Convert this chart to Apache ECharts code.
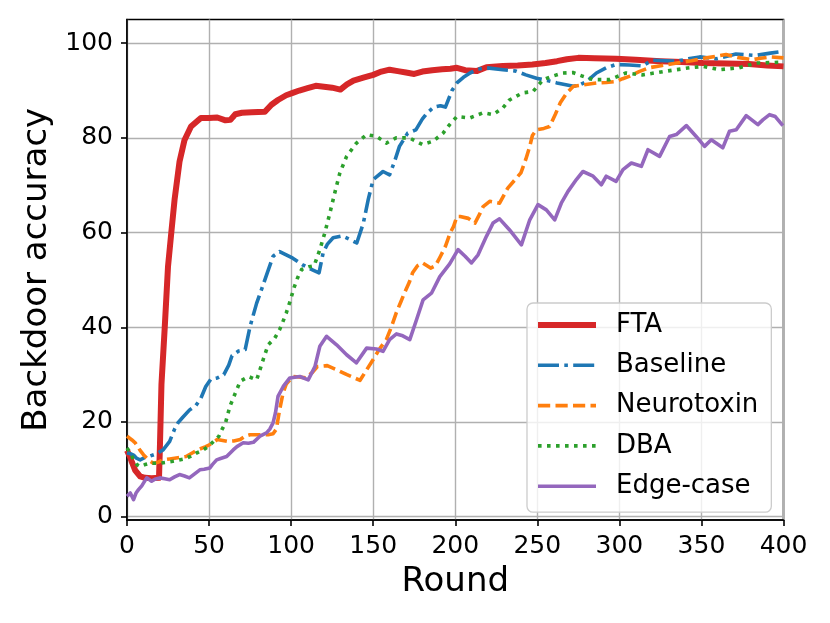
<!DOCTYPE html>
<html>
<head>
<meta charset="utf-8">
<script src="https://cdn.jsdelivr.net/npm/echarts@6/dist/echarts.min.js"></script>
<style>html,body{margin:0;padding:0;background:#fff;}#c{width:830px;height:623px;}</style>
</head>
<body>
<div id="c"></div>
<script>
// [round, backdoor accuracy]
var ftaData = [[0,14],[2,12.5],[3,11.5],[5,9.8],[8,8.5],[11,8.2],[15,8.1],[19.5,8.2],[20,14],[21,28],[23,40],[25,52.9],[27,60],[29,67],[32,75],[35,79.5],[39,82.4],[45,84.2],[50,84.2],[55,84.3],[60,83.7],[63,83.8],[66,85],[70,85.3],[76,85.4],[84,85.5],[88,87],[92,88],[97,89],[101,89.5],[105,90],[110,90.5],[115,91],[120,90.8],[125,90.6],[130,90.2],[134,91.3],[138,92.1],[144,92.7],[150,93.3],[155,94],[160,94.4],[165,94.1],[170,93.8],[175,93.5],[180,94],[186,94.3],[192,94.5],[197,94.6],[201,94.8],[206,94.3],[213,94.1],[219,94.9],[229,95.2],[238,95.3],[247,95.5],[255,95.8],[262,96.2],[268,96.6],[275,96.9],[285,96.8],[298,96.7],[310,96.5],[325,96.2],[338,96],[351,95.8],[365,95.7],[379,95.6],[390,95.3],[400,95.1]];
var baselineData = [[0,13.5],[2,13.3],[4,13],[6,12.3],[8,12],[11,12.5],[14,12.8],[18,13.3],[22,14.1],[26,15.9],[29,18.5],[31,19.8],[34,21],[38,22.5],[42,23.5],[45,25],[48,27.5],[51,29],[55,29.3],[59,30],[62,32],[64,34],[68,35],[72,35.3],[75,40.2],[79,45.1],[83,49],[86,52],[89,55],[93,56],[97,55.3],[101,54.6],[107,53.2],[112,52.3],[117,51.5],[119.5,55.7],[122,57.5],[125.6,58.9],[131,59.3],[136,58.5],[140,57.8],[144,62],[147,67],[150,71.2],[156,72.9],[160,72.2],[163,75],[166,78.2],[171,81],[176,81.7],[180,84],[183,85.3],[187,86.5],[191,86.8],[194,86.5],[198,90],[201,91.6],[205,92.8],[209,93.7],[214,94.5],[219,94.8],[229,94.4],[237,94.1],[243,93.3],[249.5,92.6],[256,92.1],[262,91.6],[272,90.9],[276,91.2],[280,91.9],[286,93.7],[292,94.8],[298,95.5],[306,95.4],[314,95.2],[320,96.4],[328,96.3],[335,96.2],[342,96.7],[349,97.1],[359,96.7],[365,97.2],[371,97.7],[383,97.4],[392,97.9],[400,98.3]];
var neurotoxinData = [[0,17],[3,16.2],[5,15.6],[8,14],[10,13.1],[13,12],[16,11.3],[19,11.5],[22,12],[26,12.2],[30,12.4],[36,12.7],[40,13.5],[43,14.1],[48,14.8],[52,15.5],[55,16.3],[61,15.9],[65,16],[69,16.3],[72,17],[75,17.3],[81,17.3],[86,17.3],[89,17.5],[91,18.5],[93,22.6],[95,26],[97,28],[101,29.6],[105,29.5],[109,29.3],[113,30.5],[116,31.7],[122,31.9],[128,31],[134,30],[142,28.8],[146,31],[150,33.2],[154,35.5],[158,37.4],[161,40],[164,43],[167,45.5],[169,47.2],[172,49.5],[174,51.5],[177,53],[180,53.6],[185,52.5],[188,53],[191,55],[194,57.1],[197,60],[199,61.3],[201,63.4],[203,63.4],[208,63],[212,62],[215,64],[217,65.5],[221,66.6],[227,66.2],[232,69.4],[236,71],[240,72.6],[243,75.5],[245.4,78.2],[247,80.5],[249.5,81.7],[254,82],[257.5,82.4],[261,85],[264,87.4],[268,89.5],[272,90.9],[278,91.2],[286,91.6],[292,91.7],[298,91.9],[302,92.5],[306,93],[312,94],[318,94.8],[326,95.3],[335,95.8],[344,96.3],[353,96.9],[360,97.3],[365,97.6],[372,97],[381,96.5],[386,96.8],[392,97.1],[400,96.9]];
var dbaData = [[0,14.5],[2,13.5],[4,12],[6,11],[8,10.6],[11,11],[14,11.3],[17,11.3],[20,11.3],[24,11.5],[28,11.7],[35,12.2],[39,12.8],[42,13.4],[46,14],[49.5,14.8],[53,16],[56,17],[58,18.5],[60,19.8],[62.7,23.3],[66,26.1],[69,28.6],[74,29.6],[79,28.9],[81,31],[83,33.2],[86,36.3],[90,37.7],[93,39.5],[95,41.2],[97,43],[99,45.1],[102,48.6],[104,50.5],[106.4,52.2],[111,52.8],[114,53],[117.5,56.4],[120.5,59.9],[123.6,64.1],[126.6,68.4],[129.7,72.6],[133.8,76.1],[139.8,78.9],[146,80.7],[152,80.3],[158,78.9],[164,80],[172,80],[180,78.6],[186.5,79.3],[192.6,81],[196.6,82.8],[201,84.5],[208.8,84.2],[217,85.3],[223,84.9],[229,86.3],[233,88],[241,89.5],[247.4,89.8],[253.5,92.3],[259,93],[265.6,93.7],[271.7,93.8],[277.8,93],[284,92.3],[294,92.3],[304,93.7],[314,93.3],[328.6,94.1],[342.8,94.8],[351,95.1],[361,94.4],[373,94.8],[383.4,95.8],[392,95.9],[400,96]];
var edgeCaseData = [[0,4.3],[2,5],[4,3.6],[5.5,5],[7,5.7],[9,6.5],[12,8.2],[15,7.5],[17,7.9],[20,8.2],[23,8],[26,7.8],[29,8.4],[32,8.9],[35,8.6],[38,8.2],[41,9],[44.4,9.9],[47,10],[50.5,10.3],[52,11],[54.6,12],[57,12.3],[60.7,12.7],[64.7,14.1],[67,14.8],[70.8,15.6],[74,15.5],[77,15.7],[81,17],[85,17.7],[87,18.5],[89,19.8],[90.5,22],[92,25.4],[95.2,27.5],[99.2,29.3],[105.3,29.6],[110.4,28.9],[114.5,31.7],[117.5,36],[121.6,38.1],[127.7,36.3],[133.8,34.2],[139.8,32.5],[146,35.6],[152,35.4],[156,34.9],[160,37.4],[164.2,38.6],[168,38.2],[172.3,37.4],[176.4,41.6],[180.4,45.8],[185.5,47.2],[190.6,50.7],[196.6,53.4],[201.7,56.4],[206,55],[209.9,53.6],[213.9,55.3],[219,59.2],[223,62],[227,62.9],[233,60.6],[240.3,57.4],[245.4,62.7],[250.4,65.9],[255.5,64.8],[260.6,62.7],[264.6,66.2],[268.7,68.7],[273.8,71.2],[277.8,72.9],[284,71.9],[289,70.1],[292,71.9],[298,70.8],[302.2,73.3],[307.3,74.7],[313.4,74],[317.4,77.5],[324.5,76.1],[330.6,80.3],[334.7,80.7],[340.8,82.6],[346.8,80.3],[351.9,78.2],[356,79.6],[363,77.9],[367.1,81.4],[371.2,81.7],[377.3,84.7],[384.4,82.8],[387.4,83.8],[391.5,84.9],[395,84.5],[399.6,82.6]];
var seriesNames = ['FTA','Baseline','Neurotoxin','DBA','Edge-case'];
var yTicks = [0,20,40,60,80,100];

var FONT = 'DejaVu Sans';
var styles = {
  'FTA':        {color:'#d62728', width:6, type:'solid'},
  'Baseline':   {color:'#1f77b4', width:3.6, type:[21,5.3,3.6,5.3]},
  'Neurotoxin': {color:'#ff7f0e', width:3.6, type:[12.2,5.3]},
  'DBA':        {color:'#2ca02c', width:3.6, type:[3.6,5.4]},
  'Edge-case':  {color:'#9467bd', width:3.6, type:'solid'}
};
var allData = {'FTA':ftaData,'Baseline':baselineData,'Neurotoxin':neurotoxinData,'DBA':dbaData,'Edge-case':edgeCaseData};

var chart = echarts.init(document.getElementById('c'), null, {renderer:'canvas'});
var series = seriesNames.map(function(n){
  var s = styles[n];
  return {name:n, type:'line', data:allData[n], showSymbol:false, symbol:'none', animation:false,
    lineStyle:{color:s.color, width:s.width, type:s.type, cap:'butt', join:'round'}, itemStyle:{color:s.color},
    emphasis:{disabled:true}};
});
var legendData = seriesNames.map(function(n){
  var s = styles[n];
  return {name:n, itemStyle:{opacity:0, color:s.color, borderWidth:0},
    lineStyle:{color:s.color, width:s.width, type:s.type, cap:'butt', opacity:1}};
});
chart.setOption({
  backgroundColor:'#fff',
  animation:false,
  grid:{left:127, right:46.5, top:19.5, bottom:103, show:true, borderColor:'#000', borderWidth:1.6, backgroundColor:'transparent', containLabel:false},
  legend:{
    data:legendData, orient:'vertical', left:527, top:303,
    itemWidth:58, itemHeight:14, itemGap:14.3,
    padding:[9,13,13,8],
    backgroundColor:'rgba(255,255,255,0.8)', borderColor:'#cccccc', borderWidth:1.3, borderRadius:6,
    textStyle:{fontFamily:FONT, fontSize:26, color:'#000', padding:[0,0,0,15], lineHeight:25},
    selectedMode:false
  },
  xAxis:{type:'value', min:0, max:400, interval:50,
    name:'Round', nameLocation:'middle', nameGap:45,
    nameTextStyle:{fontFamily:FONT, fontSize:34, color:'#000'},
    axisLine:{show:true, onZero:false, lineStyle:{color:'#000', width:1.6}},
    axisTick:{show:true, inside:false, length:6, lineStyle:{color:'#000', width:1.6}},
    axisLabel:{fontFamily:FONT, fontSize:25, color:'#000', margin:14},
    splitLine:{show:true, lineStyle:{color:'#b0b0b0', width:1.4}}
  },
  yAxis:{type:'value', min:-0.7, max:105,
    name:'Backdoor accuracy', nameLocation:'middle', nameGap:73,
    nameTextStyle:{fontFamily:FONT, fontSize:34, color:'#000'},
    axisLine:{show:true, onZero:false, lineStyle:{color:'#000', width:1.6}},
    axisTick:{show:true, inside:false, length:6, customValues:yTicks, lineStyle:{color:'#000', width:1.6}},
    axisLabel:{fontFamily:FONT, fontSize:25, color:'#000', margin:14, customValues:yTicks},
    splitLine:{show:true, lineStyle:{color:'#b0b0b0', width:1.4}}
  },
  series:series
});
</script>
</body>
</html>
